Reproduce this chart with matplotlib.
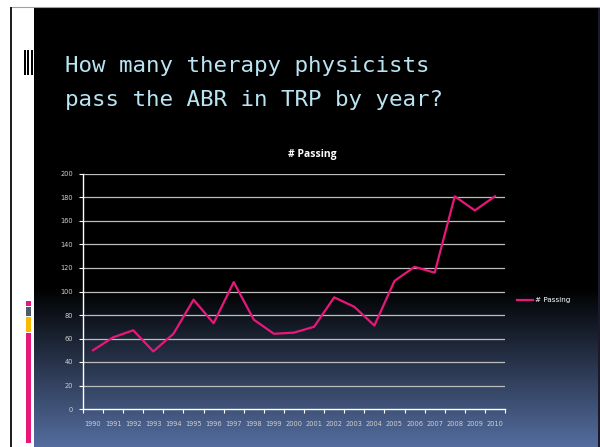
import numpy as np
import matplotlib
matplotlib.use("Agg")
import matplotlib.pyplot as plt
from matplotlib.patches import Rectangle

years = [str(y) for y in range(1990, 2011)]
passing = [50, 61, 67, 49, 64, 93, 73, 108, 76, 64, 65, 70, 95, 87, 71, 109, 121, 116, 181, 169, 181]
series_name = "# Passing"
chart_title = "# Passing"
slide_title = ["How many therapy physicists", "pass the ABR in TRP by year?"]
y_ticks = list(range(0, 201, 20))

W, H = 600, 447
fig = plt.figure(figsize=(W / 100, H / 100), dpi=100)
fig.patch.set_facecolor("white")

# background drawing axes in pixel coords
bg = fig.add_axes([0, 0, 1, 1])
bg.set_xlim(0, W)
bg.set_ylim(H, 0)
bg.axis("off")

# gradient: black top, blue at bottom
n = 447
t = np.linspace(0, 1, n)
start = 285 / 447.0
f = np.clip((t - start) / (1 - start), 0, 1)
top = np.array([0, 0, 0])
bot = np.array([84, 109, 158]) / 255.0
grad = (top[None, :] * (1 - f[:, None]) + bot[None, :] * f[:, None])
img = np.repeat(grad[:, None, :], 2, axis=1)
bg.imshow(img, extent=[34, 599, H, 8], aspect="auto", zorder=0, interpolation="bilinear")

# frame lines
bg.plot([10, 600], [7, 7], color="#a0a0a0", lw=0.8, zorder=1)
bg.add_patch(Rectangle((10, 7), 2, H - 7, color="#202020", zorder=1, lw=0))
bg.add_patch(Rectangle((598, 8), 2, H - 8, color="#1a1a2a", zorder=1, lw=0))

# striped icon near title
for x0 in [23.5, 27, 30.5]:
    bg.add_patch(Rectangle((x0, 50), 2.2, 25, color="black", zorder=2, lw=0))

# coloured bars on left
bars = [(301, 306, "#e8177a"), (307, 316, "#4f5a6a"), (317, 332, "#fbb900"), (333, 443, "#e8177a")]
for y0, y1, c in bars:
    bg.add_patch(Rectangle((26, y0), 5, y1 - y0, color=c, zorder=2, lw=0))

# slide title
for i, line in enumerate(slide_title):
    bg.text(65, 72 + 34 * i, line, color="#b9e5f3", fontsize=16.2,
            family="DejaVu Sans Mono", va="baseline", ha="left", zorder=3)

# chart axes
left, right, ytop, ybot = 83, 505, 174, 409
ax = fig.add_axes([left / W, (H - ybot) / H, (right - left) / W, (ybot - ytop) / H])
ax.patch.set_alpha(0)
x = np.arange(len(years))
ax.plot(x, passing, color="#e8177a", lw=1.6, label=series_name, zorder=3)
ax.set_xlim(-0.5, len(years) - 0.5)
ax.set_ylim(0, 200)
ax.set_yticks(y_ticks)
ax.set_yticklabels([str(v) for v in y_ticks])
for v in y_ticks[1:]:
    ax.axhline(v, color="#bdbdbd", lw=0.9, zorder=1)

ax.set_xticks(np.arange(-0.5, len(years)))
ax.set_xticklabels([])
ax.set_xticks(x, minor=True)
ax.set_xticklabels(years, minor=True)
ax.tick_params(axis="x", which="major", length=3, color="white", direction="out", width=0.8)
ax.tick_params(axis="x", which="minor", length=0, pad=9, labelsize=4.8, labelcolor="#d0d0d0")
ax.tick_params(axis="y", length=3, color="white", direction="out", width=0.8,
               labelsize=4.8, labelcolor="#d0d0d0", pad=4)
for s in ["top", "right"]:
    ax.spines[s].set_visible(False)
for s in ["left", "bottom"]:
    ax.spines[s].set_color("white")
    ax.spines[s].set_linewidth(1.0)

fig.text(312 / W, 1 - 155 / H, chart_title, color="white", fontsize=7.5,
         fontweight="bold", family="Open Sans", ha="center", va="center")

leg = fig.legend(loc="center left", bbox_to_anchor=(517 / W, 1 - 300 / H), frameon=False,
                 fontsize=5.2, handlelength=2.2, handletextpad=0.3, borderpad=0, borderaxespad=0)
for txt in leg.get_texts():
    txt.set_color("white")

fig.savefig("out.png", dpi=100, facecolor="white")
